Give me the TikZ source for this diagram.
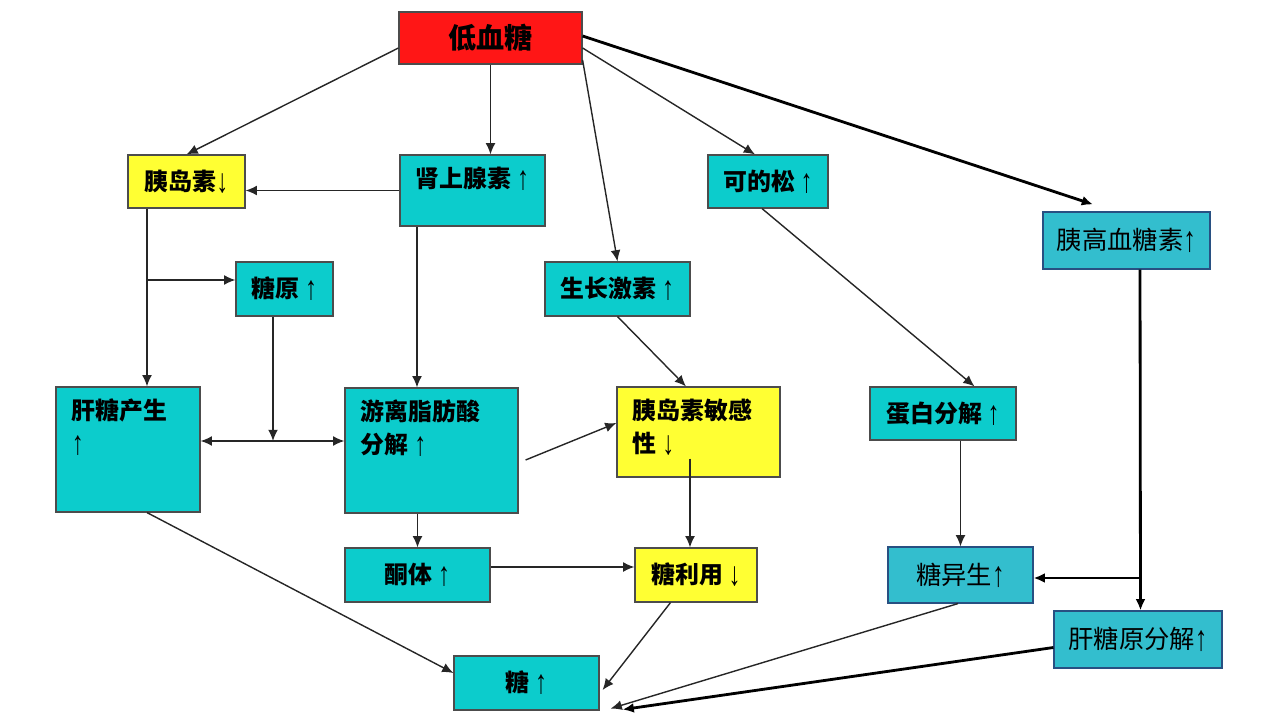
\documentclass[tikz,border=0pt]{standalone}
\usepackage{fontspec}
\usepackage{graphicx}
\setmainfont{Noto Sans CJK SC}
\newfontfamily\arrowfont{Liberation Sans}
\usetikzlibrary{arrows.meta,positioning,calc}

\definecolor{lowred}{RGB}{255,22,22}
\definecolor{cyanbox}{RGB}{12,204,204}
\definecolor{skybox}{RGB}{51,190,206}
\definecolor{yelbox}{RGB}{255,255,51}
\definecolor{skyedge}{RGB}{40,80,130}

\newcommand{\toptext}[3]{\parbox[c][#2][t]{#1}{\vspace*{0.3cm}#3}}
\newcommand{\upar}{\raisebox{-0.08em}{\scalebox{1}[1.4]{\arrowfont\mdseries ↑}}}
\newcommand{\dnar}{\raisebox{-0.08em}{\scalebox{1}[1.4]{\arrowfont\mdseries ↓}}}

\tikzset{
  box/.style={draw=black!70,fill=#1,line width=0.8pt,inner sep=0pt,
    font=\fontsize{17}{23.5}\selectfont\bfseries},
  bigbox/.style={draw=skyedge,fill=skybox,line width=0.8pt,inner sep=0pt,
    font=\fontsize{18}{24}\selectfont},
  link/.style={->,draw=black!85,line width=1pt},
  biglink/.style={->,draw=black,line width=2pt}
}

\begin{document}
\begin{tikzpicture}[x=0.025cm,y=-0.025cm,>={Latex[length=8pt,width=7pt]}]
\useasboundingbox (0,0) rectangle (1280,720);

% boxes
\node[box=lowred,minimum width=4.575cm,minimum height=1.3cm,font=\fontsize{20}{24}\selectfont\bfseries] (low) at (490.5,38) {低血糖};
\node[box=yelbox,minimum width=2.925cm,minimum height=1.325cm] (ins) at (186.5,181.5) {胰岛素\dnar};
\node[box=cyanbox] (adr) at (472.5,190.5) {\toptext{3.625cm}{1.775cm}{\centering 肾上腺素 \upar}};
\node[box=cyanbox,minimum width=3cm,minimum height=1.325cm] (cort) at (768,181.5) {可的松 \upar};
\node[bigbox,minimum width=4.175cm,minimum height=1.425cm] (glucagon) at (1126.5,240.5) {胰高血糖素\upar};
\node[box=cyanbox,minimum width=2.425cm,minimum height=1.35cm] (glyc) at (284.5,289) {糖原 \upar};
\node[box=cyanbox,minimum width=3.625cm,minimum height=1.35cm] (gh) at (617.5,289) {生长激素 \upar};
\node[box=cyanbox,inner xsep=0.4cm] (liver) at (128,449.5) {\toptext{2.8cm}{3.125cm}{\raggedright 肝糖产生\\\upar}};
\node[box=cyanbox,inner xsep=0.4cm] (ffa) at (431.5,450.5) {\toptext{3.525cm}{3.125cm}{\raggedright 游离脂肪酸\\分解 \upar}};
\node[box=yelbox,inner xsep=0.4cm] (sens) at (698.5,432) {\toptext{3.275cm}{2.25cm}{\raggedright 胰岛素敏感\\性 \dnar}};
\node[box=cyanbox,minimum width=3.65cm,minimum height=1.325cm] (prot) at (943,413.5) {蛋白分解 \upar};
\node[box=cyanbox,minimum width=3.625cm,minimum height=1.35cm] (ket) at (417.5,575) {酮体 \upar};
\node[box=yelbox,minimum width=3.05cm,minimum height=1.35cm] (use) at (696,575) {糖利用 \dnar};
\node[bigbox,minimum width=3.625cm,minimum height=1.4cm] (gng) at (960.5,575) {糖异生\upar};
\node[bigbox,minimum width=4.2cm,minimum height=1.425cm] (glyco) at (1138,639.5) {肝糖原分解\upar};
\node[box=cyanbox,minimum width=3.625cm,minimum height=1.35cm] (sugar) at (526.5,683) {糖 \upar};
\coordinate (fork) at (273,441);

% from low blood sugar
\draw[link] ($(low.west)+(0,10)$) -- (ins.north);
\draw[link] (low.south) -- (low.south |- adr.north);
\draw[link] ($(low.east)+(0,10)$) -- ($(cort.north)+(-13,0)$);
\draw[link] ($(low.east)+(0,22)$) -- (gh.north);
\draw[biglink] ($(low.east)+(0,-2)$) -- ($(glucagon.north)+(-33.5,-7)$);

% left part
\draw[link] (adr.west) -- (adr.west -| ins.east);
\draw[link] ($(adr.south)+(-55.5,0)$) -- ($(ffa.north)+(-14.5,0)$);
\draw[link] ($(ins.south)+(-39.5,0)$) -- ($(liver.north)+(19,0)$);
\draw[link] ($(glyc.west)+(-89,-9)$) -- ($(glyc.west)+(0,-9)$);
\draw[link] ($(glyc.south)+(-11.5,0)$) -- (fork);
\draw[link,<->] (liver.east |- fork) -- (ffa.west |- fork);
\draw[link] (ket.north |- ffa.south) -- (ket.north);
\draw[link] ($(ffa.east)+(7,9.5)$) -- ($(sens.west)+(0,-9)$);
\draw[link] ($(ket.east)+(0,-8)$) -- ($(use.west)+(0,-8)$);
\draw[link] ($(liver.south)+(19,0)$) -- ($(sugar.west)+(0,-10)$);

% middle part
\draw[link] (gh.south) -- ($(sens.north)+(-12.5,0)$);
\draw[link] ($(sens.south)+(-8.5,-19)$) -- ($(use.north)+(-6,0)$);
\draw[link] ($(use.south)+(-25.5,0)$) -- ($(sugar.east)+(3,7)$);
\draw[link] ($(cort.south)+(-6,0)$) -- ($(prot.north)+(31.5,0)$);
\draw[link] ($(prot.south)+(17.5,0)$) -- (gng.north);
\draw[link] ($(gng.south)+(-2.5,0)$) -- ($(sugar.south east)+(11,-2)$);

% glucagon part
\draw[biglink] ($(glucagon.south)+(13.5,0)$) -- ($(glyco.north)+(2.5,0)$);
\draw[biglink] ($(gng.east)+(107.5,3)$) -- ($(gng.east)+(0,3)$);
\draw[biglink] ($(glyco.west)+(0,8)$) -- ($(sugar.south east)+(23,-1)$);
\end{tikzpicture}
\end{document}
